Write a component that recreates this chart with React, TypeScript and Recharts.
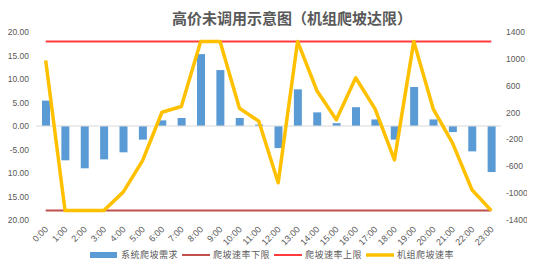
import { ComposedChart, Bar, Line, XAxis, YAxis, ReferenceLine } from 'recharts';

const hours = [
  '0:00', '1:00', '2:00', '3:00', '4:00', '5:00', '6:00', '7:00', '8:00', '9:00', '10:00', '11:00',
  '12:00', '13:00', '14:00', '15:00', '16:00', '17:00', '18:00', '19:00', '20:00', '21:00', '22:00', '23:00',
];

// 系统爬坡需求 (left axis)
const demand = [
  5.4, -7.3, -9.0, -7.1, -5.6, -2.9, 1.2, 1.7, 15.3, 11.9, 1.7, 0.3,
  -4.7, 7.8, 2.9, 0.6, 4.0, 1.4, -2.9, 8.3, 1.4, -1.3, -5.4, -9.8,
];

// 机组爬坡速率 (right axis)
const unitRate = [
  975, -1260, -1260, -1260, -985, -515, 205, 290, 1260, 1260, 265, 72,
  -845, 1260, 525, 92, 718, 256, -505, 1260, 256, -256, -950, -1260,
];

const lowerLimit = [
  -1260, -1260, -1260, -1260, -1260, -1260, -1260, -1260, -1260, -1260, -1260, -1260,
  -1260, -1260, -1260, -1260, -1260, -1260, -1260, -1260, -1260, -1260, -1260, -1260,
];
const upperLimit = [
  1260, 1260, 1260, 1260, 1260, 1260, 1260, 1260, 1260, 1260, 1260, 1260,
  1260, 1260, 1260, 1260, 1260, 1260, 1260, 1260, 1260, 1260, 1260, 1260,
];

const leftTicks = [-20, -15, -10, -5, 0, 5, 10, 15, 20];
const rightTicks = [-1400, -1200, -1000, -800, -600, -400, -200, 0, 200, 400, 600, 800, 1000, 1200, 1400];

const data = hours.map((h, i) => ({
  hour: h,
  demand: demand[i],
  lower: lowerLimit[i],
  upper: upperLimit[i],
  rate: unitRate[i],
}));

const FONT = '"Liberation Sans", "Noto Sans CJK SC", sans-serif';
const CJK = '"Noto Sans CJK SC", sans-serif';
const GREY = '#595959';

const HourTick = (props: any) => {
  const { x, y, payload } = props;
  const ax = x + 3;
  const ay = y + 8;
  return (
    <text
      x={ax}
      y={ay}
      transform={`rotate(-45 ${ax} ${ay})`}
      textAnchor="end"
      fontSize={9}
      fill={GREY}
      fontFamily={FONT}
    >
      {payload.value}
    </text>
  );
};

const legendItems = [
  { name: '系统爬坡需求', kind: 'bar', color: '#5B9BD5' },
  { name: '爬坡速率下限', kind: 'line', color: '#C0504D', w: 2 },
  { name: '爬坡速率上限', kind: 'line', color: '#FF3B3B', w: 2 },
  { name: '机组爬坡速率', kind: 'line', color: '#FFC000', w: 3.5 },
];

export default function App() {
  return (
    <div
      style={{
        position: 'relative',
        width: 535,
        height: 268,
        margin: -8,
        background: '#fff',
        border: '1px solid #d9d9d9',
        boxSizing: 'border-box',
      }}
    >
      <div
        style={{
          position: 'absolute',
          left: 171,
          top: 6,
          fontFamily: CJK,
          fontWeight: 'bold',
          fontSize: 15,
          color: GREY,
          whiteSpace: 'nowrap',
        }}
      >
        高价未调用示意图（机组爬坡达限）
      </div>
      <div style={{ position: 'absolute', left: -1, top: -1 }}>
        <ComposedChart
          width={535}
          height={268}
          data={data}
          barCategoryGap={0}
          margin={{ top: 32, right: 0, bottom: 0, left: 0 }}
        >
          <XAxis
            dataKey="hour"
            interval={0}
            axisLine={false}
            tickLine={false}
            tickSize={0}
            height={48}
            tick={<HourTick />}
          />
          <YAxis
            yAxisId="left"
            domain={[-20, 20]}
            ticks={leftTicks}
            width={36}
            axisLine={false}
            tickLine={false}
            tickSize={0}
            tickMargin={7}
            tickFormatter={(v: number) => v.toFixed(2)}
            tick={{ fontSize: 8.5, fill: GREY, fontFamily: FONT }}
          />
          <YAxis
            yAxisId="right"
            orientation="right"
            domain={[-1400, 1400]}
            ticks={rightTicks}
            width={34}
            axisLine={false}
            tickLine={false}
            tickSize={0}
            tickMargin={5}
            tick={{ fontSize: 8.5, fill: GREY, fontFamily: FONT }}
          />
          <ReferenceLine yAxisId="left" y={0} stroke="#d9d9d9" strokeWidth={1} />
          <Bar yAxisId="left" dataKey="demand" fill="#5B9BD5" barSize={8} isAnimationActive={false} />
          <Line
            yAxisId="right"
            dataKey="lower"
            stroke="#C0504D"
            strokeWidth={2}
            dot={false}
            isAnimationActive={false}
          />
          <Line
            yAxisId="right"
            dataKey="upper"
            stroke="#FF3B3B"
            strokeWidth={2}
            dot={false}
            isAnimationActive={false}
          />
          <Line
            yAxisId="right"
            dataKey="rate"
            stroke="#FFC000"
            strokeWidth={3.5}
            strokeLinejoin="round"
            dot={false}
            isAnimationActive={false}
          />
        </ComposedChart>
      </div>
      <div
        style={{
          position: 'absolute',
          left: 89,
          top: 247,
          display: 'flex',
          alignItems: 'center',
          fontFamily: CJK,
          fontSize: 9,
          color: GREY,
          whiteSpace: 'nowrap',
        }}
      >
        {legendItems.map((it) => (
          <div key={it.name} style={{ display: 'flex', alignItems: 'center', marginRight: 4 }}>
            <svg width={28} height={10} style={{ marginRight: 3 }}>
              {it.kind === 'bar' ? (
                <rect x={0} y={2} width={27} height={6} fill={it.color} />
              ) : (
                <line x1={0} x2={28} y1={5} y2={5} stroke={it.color} strokeWidth={it.w} />
              )}
            </svg>
            <span style={{ letterSpacing: 0.5 }}>{it.name}</span>
          </div>
        ))}
      </div>
    </div>
  );
}
